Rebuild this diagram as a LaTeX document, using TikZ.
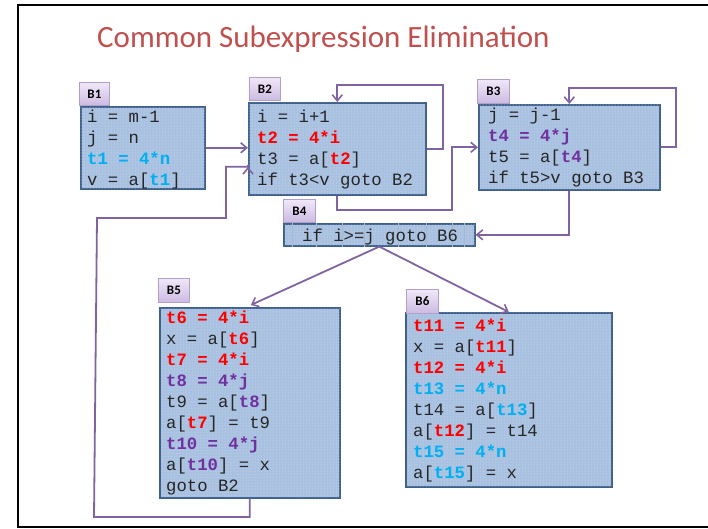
\documentclass[tikz,border=0pt]{standalone}
\usepackage{fontspec}
\setmainfont{Carlito}
\setmonofont{Liberation Mono}
\usetikzlibrary{arrows.meta,calc,patterns}
\definecolor{titlered}{RGB}{192,80,77}
\definecolor{blkfill}{RGB}{168,193,224}
\definecolor{blkdot}{RGB}{214,226,242}
\definecolor{blkdraw}{RGB}{62,96,138}
\definecolor{lbltop}{RGB}{240,232,248}
\definecolor{lblbot}{RGB}{204,186,226}
\definecolor{lbldraw}{RGB}{178,160,204}
\definecolor{arrowc}{RGB}{128,100,162}
\definecolor{cred}{RGB}{255,0,0}
\definecolor{ccyan}{RGB}{0,176,240}
\definecolor{cpurp}{RGB}{112,48,160}
\newcommand{\redb}[1]{\textcolor{cred}{\bfseries #1}}
\newcommand{\cyanb}[1]{\textcolor{ccyan}{\bfseries #1}}
\newcommand{\purpb}[1]{\textcolor{cpurp}{\bfseries #1}}
\newcommand{\codelines}[1]{\vtop{\baselineskip=21pt\lineskiplimit=-10pt #1}}
\tikzset{
  blk/.style={draw=blkdraw, line width=1.6pt, fill=blkfill, rectangle, inner sep=0pt, anchor=north west,
    postaction={pattern=dots, pattern color=blkdot}},
  lbl/.style={draw=lbldraw, line width=0.8pt, top color=lbltop, bottom color=lblbot, rectangle, inner sep=0pt, anchor=north west, font=\fontsize{13}{15}\selectfont\bfseries, text=black},
  code/.style={inner sep=0pt, anchor=base west, font=\fontsize{17.3}{21}\ttfamily, text=black!85},
  flow/.style={draw=arrowc, line width=1.8pt, -{Straight Barb[length=6pt,width=10pt,line width=1.6pt]}},
  frame/.style={draw=black, line width=2.5pt}
}
\begin{document}
\begin{tikzpicture}[x=1pt,y=-1pt]
\useasboundingbox (0,0) rectangle (708,528);
% frame
\coordinate (ftl) at (18,5);
\coordinate (ftr) at (730,5);
\coordinate (fbl) at (18,527);
\coordinate (fbr) at (730,527);
\draw[frame] (ftr) -- (ftl) -- (fbl) -- (fbr);
% title
\node[anchor=base west, inner sep=0pt, text=titlered, font=\fontsize{31}{36}\selectfont] (title) at (97,47) {Common Subexpression Elimination};
% blocks
\node[blk, minimum width=124pt, minimum height=82pt] (b1) at (80,106) {};
\node[lbl, minimum width=30pt, minimum height=23pt] (l1) at (79,82) {B1};
\node[code] (b1t) at (87,122) {\codelines{\hbox{i = m-1}\hbox{j = n}\hbox{\cyanb{t1 = 4*n}}\hbox{v = a[\cyanb{t1}]}}};

\node[blk, minimum width=177pt, minimum height=92pt] (b2) at (248,102) {};
\node[lbl, minimum width=31pt, minimum height=23pt] (l2) at (249,77) {B2};
\node[code] (b2t) at (257,122) {\codelines{\hbox{i = i+1}\hbox{\redb{t2 = 4*i}}\hbox{t3 = a[\redb{t2}]}\hbox{if t3<v goto B2}}};

\node[blk, minimum width=181pt, minimum height=85pt] (b3) at (478,104) {};
\node[lbl, minimum width=32pt, minimum height=24pt] (l3) at (477,79) {B3};
\node[code] (b3t) at (488,120) {\codelines{\hbox{j = j-1}\hbox{\purpb{t4 = 4*j}}\hbox{t5 = a[\purpb{t4}]}\hbox{if t5>v goto B3}}};

\node[blk, minimum width=191pt, minimum height=22pt] (b4) at (283,223) {};
\foreach \sx in {292,316,342,364,398,426,452,464} {
  \draw[blkdraw!45, line width=0.5pt] ([xshift=\sx pt-283pt]b4.north west) -- ([xshift=\sx pt-283pt]b4.south west);
}
\node[lbl, minimum width=32pt, minimum height=23pt] (l4) at (283,199) {B4};
\node[code] (b4t) at (302,241) {if i>=j goto B6};

\node[blk, minimum width=180pt, minimum height=190pt] (b5) at (159,307) {};
\node[lbl, minimum width=31pt, minimum height=24pt] (l5) at (158,278) {B5};
\node[code] (b5t) at (166,323) {\codelines{\hbox{\redb{t6 = 4*i}}\hbox{x = a[\redb{t6}]}\hbox{\redb{t7 = 4*i}}\hbox{\purpb{t8 = 4*j}}\hbox{t9 = a[\purpb{t8}]}\hbox{a[\redb{t7}] = t9}\hbox{\purpb{t10 = 4*j}}\hbox{a[\purpb{t10}] = x}\hbox{goto B2}}};

\node[blk, minimum width=206pt, minimum height=174pt] (b6) at (405,312) {};
\node[lbl, minimum width=32pt, minimum height=24pt] (l6) at (406,289) {B6};
\node[code] (b6t) at (413,331) {\codelines{\hbox{\redb{t11 = 4*i}}\hbox{x = a[\redb{t11}]}\hbox{\redb{t12 = 4*i}}\hbox{\cyanb{t13 = 4*n}}\hbox{t14 = a[\cyanb{t13}]}\hbox{a[\redb{t12}] = t14}\hbox{\cyanb{t15 = 4*n}}\hbox{a[\cyanb{t15}] = x}}};

% connectors
\draw[flow] (b1.east) -- (b1.east -| b2.west);
\draw[flow] (b2.east) -- ++(16,0) |- ($(b2.north)+(0,-17)$) -- (b2.north);
\draw[flow] (b2.south) -- ++(0,14) -| ($(b3.west)+(-26,0)$) -- (b3.west);
\draw[flow] (b3.east) -- ++(15,0) |- ($(b3.north)+(0,-16)$) -- (b3.north);
\draw[flow] (b3.south) |- (b4.east);
\draw[flow] (b4.south) -- ($(b5.north)+(1,-2)$);
\draw[flow] (b4.south) -- (b6.north);
\coordinate (lp1) at (94,517);
\coordinate (lp2) at (97,218);
\coordinate (lp3) at (226,218);
\draw[flow] (b5.south) -- (b5.south |- lp1) -- (lp1) -- (lp2) -- (lp3) |- ([yshift=-18pt]b2.west) -- ([yshift=-18pt]b2.west);
\end{tikzpicture}
\end{document}
